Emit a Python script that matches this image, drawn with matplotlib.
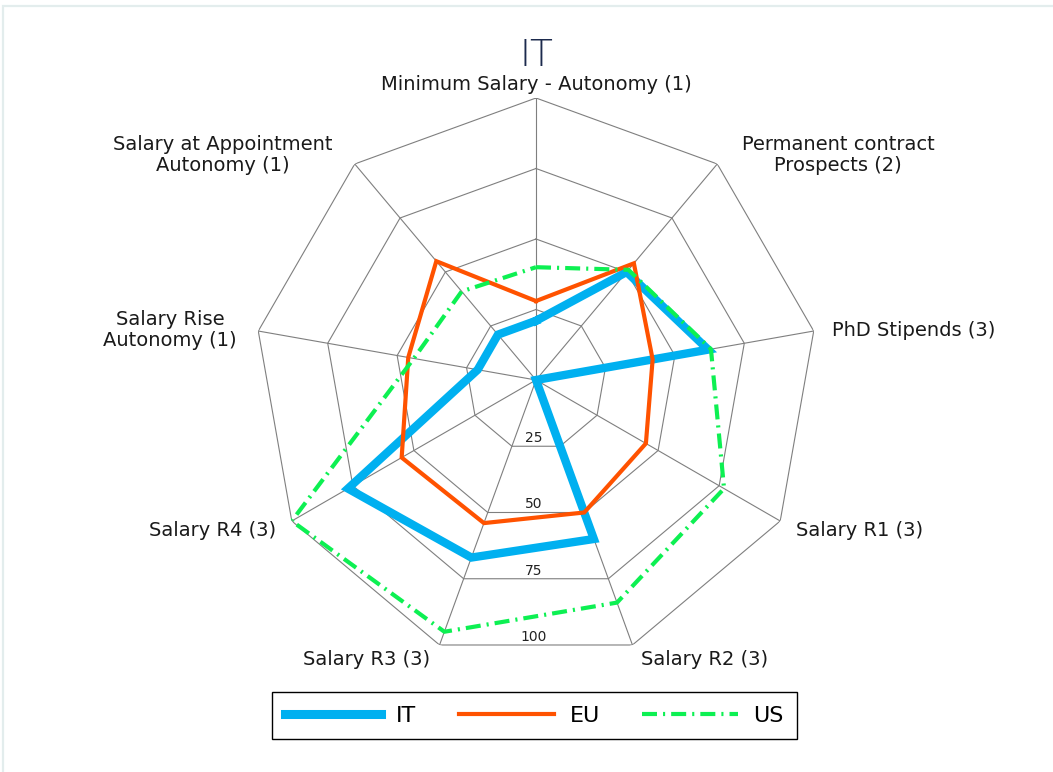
import numpy as np
import matplotlib
matplotlib.use('Agg')
import matplotlib.pyplot as plt
from matplotlib.lines import Line2D
from matplotlib.patches import Rectangle

# axis names, clockwise from the top
categories = ["Minimum Salary - Autonomy (1)", "Permanent contract\nProspects (2)",
              "PhD Stipends (3)", "Salary R1 (3)", "Salary R2 (3)", "Salary R3 (3)",
              "Salary R4 (3)", "Salary Rise\nAutonomy (1)",
              "Salary at Appointment\nAutonomy (1)"]
it_vals = [21, 50, 62, 0, 60, 67, 77, 21, 21]
eu_vals = [28, 54, 42, 45, 50, 54, 55, 46, 55]
us_vals = [40, 51, 63, 77, 84, 95, 100, 44, 41]
ring_levels = [25, 50, 75, 100]

plt.rcParams['font.family'] = ['DejaVu Sans']

W, H = 1053, 772
fig = plt.figure(figsize=(W / 100, H / 100), dpi=100)
fig.patch.set_facecolor("white")

# outer light frame (only top/left visible in the reference)
fig.add_artist(Rectangle((3 / W, -0.05), 1.2, 1 - 6 / H + 0.05, transform=fig.transFigure,
                         fill=False, edgecolor="#e3eded", linewidth=1.6))

cx, cy, R = 536, H - 380, 282
ax = fig.add_axes([(cx - R) / W, (cy - R) / H, 2 * R / W, 2 * R / H], projection="polar")
ax.set_theta_offset(np.pi / 2)
ax.set_theta_direction(-1)
ax.set_ylim(0, 100)
ax.grid(False)
ax.set_xticks([]); ax.set_yticks([])
ax.spines["polar"].set_visible(False)
ax.patch.set_alpha(0)

n = len(categories)
theta = np.linspace(0, 2 * np.pi, n, endpoint=False)
theta_c = np.append(theta, theta[0])

# polygon grid
grid_col = "#7f7f7f"
for lv in ring_levels:
    ax.plot(theta_c, [lv] * (n + 1), color=grid_col, lw=0.8, zorder=1)
for t in theta:
    ax.plot([t, t], [0, ring_levels[-1]], color=grid_col, lw=0.8, zorder=1)
for lv in ring_levels:
    ax.annotate(str(lv), (np.pi, lv * np.cos(np.pi / n)), xytext=(-2, 1),
                textcoords="offset pixels", ha="center", va="bottom", fontsize=10,
                color="#222222", zorder=2)

# series
it_col, eu_col, us_col = "#00b0f0", "#ff5200", "#0df052"
ax.plot(theta_c, it_vals + it_vals[:1], color=it_col, lw=6, solid_joinstyle="miter", zorder=3)
ax.plot(theta_c, eu_vals + eu_vals[:1], color=eu_col, lw=3, solid_joinstyle="miter", zorder=4)
ax.plot(theta_c, us_vals + us_vals[:1], color=us_col, lw=3, dashes=(3.6, 1.45, 0.5, 1.45), zorder=5)

# category labels: pixel offsets from each outer vertex
offsets = [(0, 14, "center"), (121, 9, "center"), (18, 1, "left"), (16, -9, "left"),
           (72, -15, "center"), (-73, -15, "center"), (-16, -9, "right"),
           (-88, 1, "center"), (-132, 9, "center")]
for t, lab, (dx, dy, ha) in zip(theta, categories, offsets):
    ax.annotate(lab, (t, 100), xytext=(dx, dy), textcoords="offset pixels",
                ha=ha, va="center", multialignment="center", fontsize=14,
                color="#1a1a1a", linespacing=1.15, annotation_clip=False)

fig.text(cx / W, 1 - 55 / H, "IT", ha="center", va="center", fontsize=27,
         color="#1c2a4d", fontweight="light")

handles = [Line2D([], [], color=it_col, lw=6.5),
           Line2D([], [], color=eu_col, lw=3),
           Line2D([], [], color=us_col, lw=3, dashes=(3.6, 1.45, 0.5, 1.45))]
leg = fig.legend(handles, ["IT", "EU", "US"], loc="lower center",
                 bbox_to_anchor=(534.5 / W, 33 / H), ncol=3, fontsize=16,
                 frameon=True, fancybox=False, framealpha=1, edgecolor="black",
                 handlelength=4.3, handletextpad=0.7, columnspacing=1.9, borderpad=0.6,
                 borderaxespad=0)
leg.get_frame().set_linewidth(1.0)

fig.savefig("out.png", dpi=100)
